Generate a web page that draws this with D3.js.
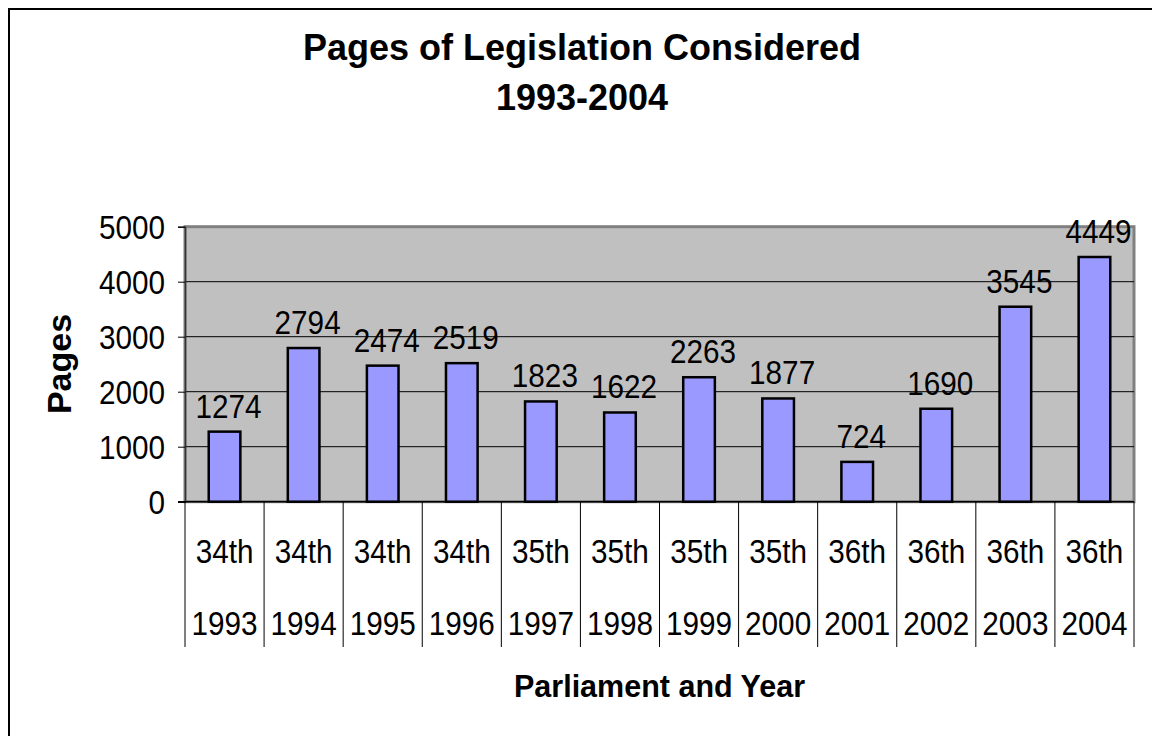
<!DOCTYPE html>
<html>
<head>
<meta charset="utf-8">
<script src="https://cdn.jsdelivr.net/npm/d3@7"></script>
<style>
  html, body { margin: 0; padding: 0; background: #fff; }
  svg { display: block; }
  text { font-family: "Liberation Sans", Arial, sans-serif; fill: #000; }
</style>
</head>
<body>
<script>
// ---- data ----
const parliaments = ["34th","34th","34th","34th","35th","35th","35th","35th","36th","36th","36th","36th"];
const years = ["1993","1994","1995","1996","1997","1998","1999","2000","2001","2002","2003","2004"];
const pages = [1274, 2794, 2474, 2519, 1823, 1622, 2263, 1877, 724, 1690, 3545, 4449];
const yTicks = [0, 1000, 2000, 3000, 4000, 5000];
const titleLines = ["Pages of Legislation Considered", "1993-2004"];
const yTitle = "Pages";
const xTitle = "Parliament and Year";

const W = 1152, H = 736;
const plot = { left: 185, right: 1134, top: 226.7, bottom: 501.7 };
const catBottom = 647;
const FS = 33, SX = 0.9; // tall, slightly condensed text like the reference

const svg = d3.select("body").append("svg").attr("width", W).attr("height", H);
svg.append("rect").attr("width", W).attr("height", H).attr("fill", "#fff");

// outer chart border (right/bottom fall outside the picture)
svg.append("rect").attr("x", 9).attr("y", 9).attr("width", W + 20).attr("height", H + 20)
  .attr("fill", "none").attr("stroke", "#000").attr("stroke-width", 2);

const idx = d3.range(pages.length);
const x = d3.scaleBand().domain(idx).range([plot.left, plot.right]).paddingInner(0.6).paddingOuter(0.3);
const xc = d3.scaleBand().domain(idx).range([plot.left, plot.right]).padding(0);
const y = d3.scaleLinear().domain([0, 5000]).range([plot.bottom, plot.top]);

function condensed(sel, fx, fy) {
  sel.attr("transform", d => `translate(${fx(d)},${fy(d)}) scale(${SX},1)`)
    .attr("font-size", FS).attr("text-anchor", "middle");
}

// plot area
svg.append("rect").attr("x", plot.left).attr("y", plot.top)
  .attr("width", plot.right - plot.left).attr("height", plot.bottom - plot.top)
  .attr("fill", "#c0c0c0").attr("stroke", "#808080").attr("stroke-width", 3);

// gridlines
svg.append("g").selectAll("line").data(yTicks.filter(t => t > 0 && t < 5000)).join("line")
  .attr("x1", plot.left).attr("x2", plot.right)
  .attr("y1", d => y(d)).attr("y2", d => y(d))
  .attr("stroke", "#000").attr("stroke-width", 1);

// bars
svg.append("g").selectAll("rect").data(idx).join("rect")
  .attr("x", i => x(i)).attr("width", x.bandwidth())
  .attr("y", i => y(pages[i])).attr("height", i => y(0) - y(pages[i]))
  .attr("fill", "#9999ff").attr("stroke", "#000").attr("stroke-width", 2.5);

// data labels
svg.append("g").selectAll("text").data(idx).join("text")
  .call(condensed, i => x(i) + x.bandwidth() / 2 + 4, i => y(pages[i]) - 14)
  .text(i => pages[i]);

// y axis
const yAxis = svg.append("g").attr("transform", `translate(${plot.left},0)`)
  .call(d3.axisLeft(y).tickValues(yTicks).tickSize(7).tickPadding(13).tickFormat(d3.format("d")));
yAxis.selectAll("text")
  .attr("font-size", FS).attr("font-family", '"Liberation Sans", Arial, sans-serif')
  .attr("dy", "0.36em").attr("x", -20 / SX).attr("transform", `scale(${SX},1)`);
yAxis.selectAll("line").attr("stroke", "#000");
yAxis.select(".domain").attr("stroke", "#333").attr("stroke-width", 1.5);

// x axis line
svg.append("line").attr("x1", plot.left - 7).attr("x2", plot.right)
  .attr("y1", plot.bottom).attr("y2", plot.bottom).attr("stroke", "#000").attr("stroke-width", 1.5);

// category separators
svg.append("g").selectAll("line").data(d3.range(pages.length + 1)).join("line")
  .attr("x1", i => plot.left + i * xc.step()).attr("x2", i => plot.left + i * xc.step())
  .attr("y1", plot.bottom).attr("y2", catBottom)
  .attr("stroke", "#000").attr("stroke-width", 1);

// category labels
const cl = svg.append("g");
cl.selectAll("text.p").data(idx).join("text").attr("class", "p")
  .call(condensed, i => xc(i) + xc.bandwidth() / 2, () => 563).text(i => parliaments[i]);
cl.selectAll("text.yr").data(idx).join("text").attr("class", "yr")
  .call(condensed, i => xc(i) + xc.bandwidth() / 2, () => 635).text(i => years[i]);

// titles
svg.append("g").selectAll("text").data(titleLines).join("text")
  .attr("x", 582).attr("y", (d, i) => 60 + i * 50)
  .attr("text-anchor", "middle").attr("font-size", 36).attr("font-weight", "bold")
  .text(d => d);

svg.append("text").attr("transform", `translate(71,364) rotate(-90)`)
  .attr("text-anchor", "middle").attr("font-size", 34).attr("font-weight", "bold").text(yTitle);

svg.append("text").attr("x", (plot.left + plot.right) / 2).attr("y", 697)
  .attr("text-anchor", "middle").attr("font-size", 30.5).attr("font-weight", "bold").text(xTitle);
</script>
</body>
</html>
